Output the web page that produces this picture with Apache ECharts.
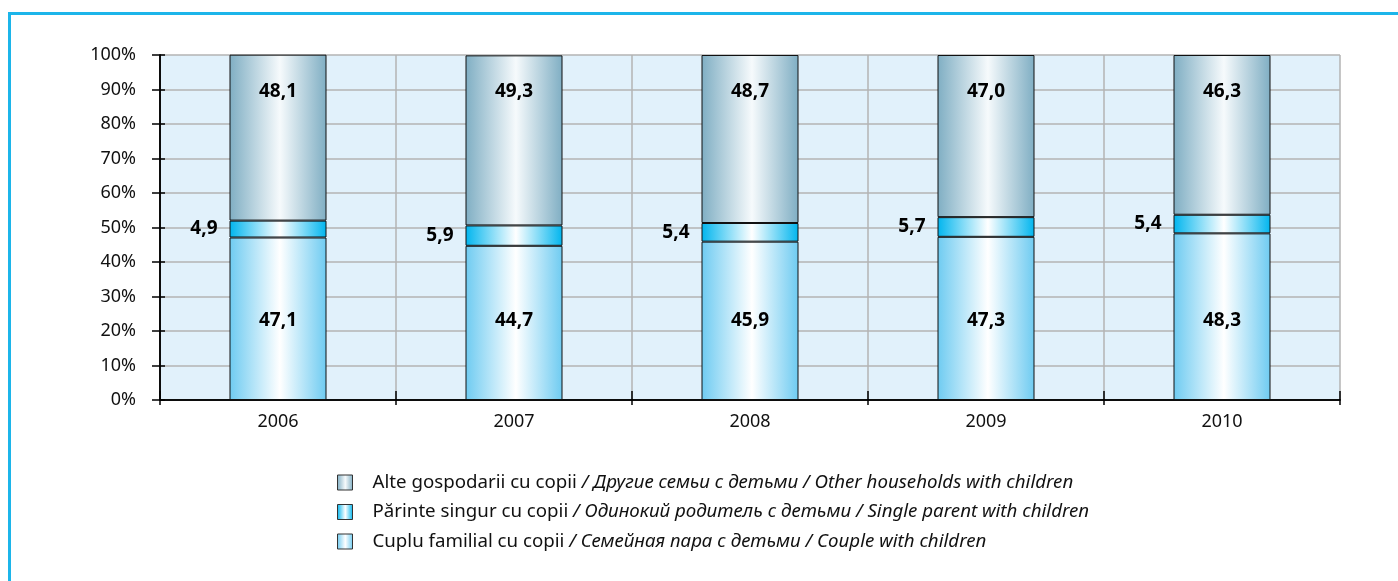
<!DOCTYPE html>
<html>
<head>
<meta charset="utf-8">
<script src="https://cdn.jsdelivr.net/npm/echarts@6/dist/echarts.min.js"></script>
<style>
  html, body { margin: 0; padding: 0; background: #ffffff; }
  #chart { width: 1398px; height: 581px; }
</style>
</head>
<body>
<div id="chart"></div>
<script>
// Household structure by year, percent shares
const years = ['2006', '2007', '2008', '2009', '2010'];
const couple = [47.1, 44.7, 45.9, 47.3, 48.3];
const singleParent = [4.9, 5.9, 5.4, 5.7, 5.4];
const otherHouseholds = [48.1, 49.3, 48.7, 47.0, 46.3];
const yTicks = [0, 10, 20, 30, 40, 50, 60, 70, 80, 90, 100];

const names = {
  other: ['Alte gospodarii cu copii', 'Другие семьи с детьми', 'Other households with children'],
  single: ['Părinte singur cu copii', 'Одинокий родитель с детьми', 'Single parent with children'],
  couple: ['Cuplu familial cu copii', 'Семейная пара с детьми', 'Couple with children']
};
const seriesName = k => names[k].join(' / ');

const FONT = '"Noto Sans", "Open Sans", sans-serif';

function hGrad(edge, mid) {
  return new echarts.graphic.LinearGradient(0, 0, 1, 0, [
    { offset: 0, color: edge },
    { offset: 0.52, color: mid },
    { offset: 1, color: edge }
  ]);
}

const fmt = p => String(p.value.toFixed(1)).replace('.', ',');

const chart = echarts.init(document.getElementById('chart'), null, { renderer: 'canvas' });

const xBase = {
  type: 'category',
  data: years,
  gridIndex: 0,
  boundaryGap: true,
  axisLine: { show: true, lineStyle: { color: '#000', width: 1.5 } },
  axisLabel: { show: false },
  splitLine: { show: false }
};
const yBase = {
  type: 'value',
  min: 0, max: 100, interval: 10,
  axisLine: { show: true, lineStyle: { color: '#000', width: 1.5 } },
  axisLabel: { show: false },
  splitLine: { show: false }
};

const labelBase = { show: true, formatter: fmt, color: '#000', fontWeight: 'bold', fontSize: 19, fontFamily: FONT };

chart.setOption({
  animation: false,
  backgroundColor: '#ffffff',
  textStyle: { fontFamily: FONT },
  graphic: [{
    type: 'rect',
    shape: { x: 9.5, y: 13.5, width: 1600, height: 800 },
    style: { fill: 'none', stroke: '#1CB5EA', lineWidth: 3 },
    silent: true,
    z: 100
  }],
  grid: {
    left: 160, right: 58, top: 55, bottom: 181,
    show: true, backgroundColor: '#E1F1FB', borderWidth: 0
  },
  legend: {
    orient: 'vertical',
    left: 337,
    top: 473,
    itemWidth: 15,
    itemHeight: 15,
    itemGap: 10.5,
    icon: 'rect',
    selectedMode: false,
    data: [seriesName('other'), seriesName('single'), seriesName('couple')],
    formatter: n => {
      const parts = n.split(' / ');
      return '{s|}{r|' + parts[0] + ' }{i|/ ' + parts[1] + ' / ' + parts[2] + '}';
    },
    textStyle: {
      fontFamily: FONT,
      fontSize: 18.7,
      color: '#111',
      rich: {
        s: { width: 15 },
        r: { fontFamily: FONT, fontSize: 18.7, color: '#111', lineHeight: 22 },
        i: { fontFamily: FONT, fontSize: 18.7, color: '#111', fontStyle: 'italic', lineHeight: 22 }
      }
    },
    itemStyle: { borderColor: '#333', borderWidth: 1 },
    padding: [0, 0, 0, 0]
  },
  xAxis: [
    Object.assign({}, xBase, {
      axisTick: { show: true, alignWithLabel: false, length: 5, lineStyle: { color: '#000', width: 1.5 } },
      axisLabel: { show: true, color: '#111', fontSize: 18, fontFamily: FONT, margin: 13 },
      splitLine: { show: true, lineStyle: { color: '#B3B3B3', width: 1.5 } }
    }),
    Object.assign({}, xBase, {
      position: 'bottom',
      axisTick: { show: true, inside: true, length: 9, lineStyle: { color: '#000', width: 1.5 } }
    })
  ],
  yAxis: [
    Object.assign({}, yBase, {
      axisTick: { show: true, length: 8, lineStyle: { color: '#000', width: 1.5 } },
      axisLabel: {
        show: true, color: '#111', fontSize: 18, fontFamily: FONT, margin: 24,
        formatter: v => (yTicks.includes(v) ? v + '%' : '')
      },
      splitLine: { show: true, lineStyle: { color: '#B3B3B3', width: 1.5 } }
    }),
    Object.assign({}, yBase, {
      position: 'left',
      axisTick: { show: true, inside: true, length: 5, lineStyle: { color: '#000', width: 1.5 } }
    })
  ],
  series: [
    {
      name: seriesName('couple'),
      type: 'bar',
      stack: 'share',
      barWidth: 97,
      data: couple,
      itemStyle: { color: hGrad('#6ECBF1', '#FFFFFF'), borderColor: '#111', borderWidth: 1 },
      label: Object.assign({}, labelBase, { position: 'insideBottom', distance: 70 })
    },
    {
      name: seriesName('single'),
      type: 'bar',
      stack: 'share',
      barWidth: 97,
      data: singleParent,
      itemStyle: { color: hGrad('#00B5EE', '#FFFFFF'), borderColor: '#111', borderWidth: 1 },
      label: Object.assign({}, labelBase, { position: 'left', distance: 12 })
    },
    {
      name: seriesName('other'),
      type: 'bar',
      stack: 'share',
      barWidth: 97,
      data: otherHouseholds,
      itemStyle: { color: hGrad('#7FAEC3', '#F6FAFC'), borderColor: '#111', borderWidth: 1 },
      label: Object.assign({}, labelBase, { position: 'insideTop', distance: 27 })
    }
  ]
});
</script>
</body>
</html>
